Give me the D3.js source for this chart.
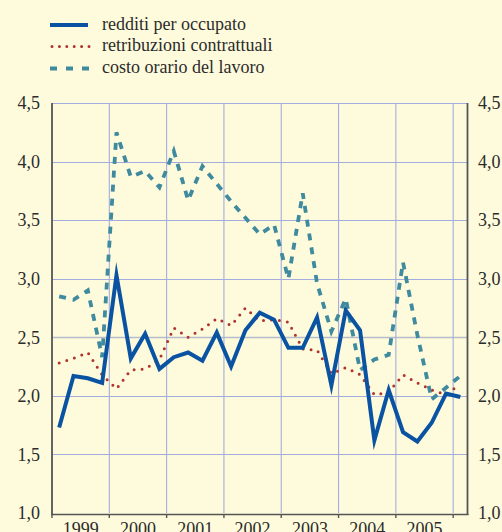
<!DOCTYPE html>
<html>
<head>
<meta charset="utf-8">
<script src="https://cdn.jsdelivr.net/npm/d3@7"></script>
<style>
  html, body { margin: 0; padding: 0; background: #fefbdc; }
  svg { display: block; }
  text { font-family: "Liberation Serif", "Times New Roman", serif; fill: #2b2b2b; }
</style>
</head>
<body>
<svg id="chart" width="502" height="532"></svg>
<script>
// ---- data ----
const years = ["1999", "2000", "2001", "2002", "2003", "2004", "2005"];
const quarters = [
  "1999T1","1999T2","1999T3","1999T4",
  "2000T1","2000T2","2000T3","2000T4",
  "2001T1","2001T2","2001T3","2001T4",
  "2002T1","2002T2","2002T3","2002T4",
  "2003T1","2003T2","2003T3","2003T4",
  "2004T1","2004T2","2004T3","2004T4",
  "2005T1","2005T2","2005T3","2005T4",
  "2006T1"
];
const redditiPerOccupato = [
  1.73, 2.17, 2.15, 2.11, 3.03, 2.32, 2.53, 2.23,
  2.33, 2.37, 2.30, 2.54, 2.25, 2.56, 2.71, 2.65,
  2.41, 2.41, 2.67, 2.09, 2.73, 2.56, 1.62, 2.05,
  1.69, 1.61, 1.77, 2.02, 1.99
];
const retribuzioniContrattuali = [
  2.28, 2.32, 2.37, 2.18, 2.06, 2.22, 2.23, 2.31,
  2.58, 2.50, 2.57, 2.66, 2.60, 2.75, 2.64, 2.65,
  2.63, 2.40, 2.39, 2.19, 2.24, 2.18, 2.01, 2.03,
  2.18, 2.11, 2.05, 2.01, 2.10
];
const costoOrarioLavoro = [
  2.85, 2.82, 2.90, 2.33, 4.25, 3.87, 3.92, 3.78,
  4.09, 3.67, 3.96, 3.81, 3.66, 3.52, 3.38, 3.46,
  3.00, 3.73, 2.96, 2.55, 2.83, 2.22, 2.31, 2.35,
  3.14, 2.52, 1.97, 2.07, 2.17
];
const yTicks = [1.0, 1.5, 2.0, 2.5, 3.0, 3.5, 4.0, 4.5];
const seriesNames = ["redditi per occupato", "retribuzioni contrattuali", "costo orario del lavoro"];

// ---- layout ----
const svg = d3.select("#chart");
const pLeft = 52, pRight = 467.5, pTop = 103, pBottom = 513;

const x = d3.scaleBand().domain(quarters).range([pLeft, pRight]).padding(0);
const y = d3.scaleLinear().domain([1, 4.5]).range([pBottom, pTop]);
const cx = q => x(q) + x.bandwidth() / 2;
const fmt = v => d3.format(".1f")(v).replace(".", ",");

svg.append("rect").attr("width", 502).attr("height", 532).attr("fill", "#fefbdc");

// gridlines
const grid = svg.append("g");
grid.selectAll("line.h").data(yTicks.filter(v => v > 1)).enter().append("line")
  .attr("x1", pLeft).attr("x2", pRight)
  .attr("y1", d => Math.round(y(d)) + 0.5).attr("y2", d => Math.round(y(d)) + 0.5)
  .attr("stroke", d => d === 2.5 ? "#b7bccb" : "#a4acdf").attr("stroke-width", d => d === 2.5 ? 1.6 : 1.1);

const yearStarts = years.slice(1).map(yr => yr + "T1").concat(["2006T1"]);
grid.selectAll("line.v").data(yearStarts).enter().append("line")
  .attr("x1", d => x(d)).attr("x2", d => x(d))
  .attr("y1", pTop).attr("y2", pBottom)
  .attr("stroke", "#a4acdf").attr("stroke-width", 1.1);

// series
const line = vals => d3.line()
  .x((d, i) => cx(quarters[i]))
  .y(d => y(d))(vals);

svg.append("path").attr("d", line(costoOrarioLavoro))
  .attr("fill", "none").attr("stroke", "#3f8a9e").attr("stroke-width", 3.8)
  .attr("stroke-dasharray", "7,7").attr("stroke-linejoin", "miter");

svg.append("path").attr("d", line(retribuzioniContrattuali))
  .attr("fill", "none").attr("stroke", "#b0342e").attr("stroke-width", 3)
  .attr("stroke-dasharray", "0,8").attr("stroke-linecap", "round");

svg.append("path").attr("d", line(redditiPerOccupato))
  .attr("fill", "none").attr("stroke", "#0a53a3").attr("stroke-width", 4)
  .attr("stroke-linejoin", "miter").attr("stroke-miterlimit", 10);

// axes frame
const axisColor = "#555555";
svg.append("line").attr("x1", pLeft).attr("x2", pLeft).attr("y1", pTop).attr("y2", pBottom + 2)
  .attr("stroke", axisColor).attr("stroke-width", 1.8);
svg.append("line").attr("x1", pRight).attr("x2", pRight).attr("y1", pTop).attr("y2", pBottom + 2)
  .attr("stroke", axisColor).attr("stroke-width", 1.8);
svg.append("line").attr("x1", pLeft - 1).attr("x2", pRight + 1).attr("y1", pBottom + 1.5).attr("y2", pBottom + 1.5)
  .attr("stroke", axisColor).attr("stroke-width", 1.6);

// bottom ticks at year boundaries
const tickPos = [x("1999T1")].concat(yearStarts.map(d => x(d)));
svg.selectAll("line.bt").data(tickPos).enter().append("line")
  .attr("x1", d => d).attr("x2", d => d)
  .attr("y1", pBottom + 1.5).attr("y2", pBottom + 5)
  .attr("stroke", axisColor).attr("stroke-width", 1.4);

// y tick labels both sides
svg.selectAll("text.yl").data(yTicks).enter().append("text")
  .attr("x", 40).attr("y", d => y(d)).attr("dy", "0.35em")
  .attr("text-anchor", "end").attr("font-size", 18).text(fmt);
svg.selectAll("text.yr").data(yTicks).enter().append("text")
  .attr("x", 478).attr("y", d => y(d)).attr("dy", "0.35em")
  .attr("text-anchor", "start").attr("font-size", 18).text(fmt);

// year labels
svg.selectAll("text.yr2").data(years).enter().append("text")
  .attr("x", d => x(d + "T1") + 2 * x.bandwidth())
  .attr("y", 534.5)
  .attr("text-anchor", "middle").attr("font-size", 18).text(d => d);

// legend
const legend = svg.append("g");
const legY = [25, 46.5, 68.5];
legend.append("line").attr("x1", 50).attr("x2", 88).attr("y1", legY[0]).attr("y2", legY[0])
  .attr("stroke", "#0a53a3").attr("stroke-width", 4);
legend.append("line").attr("x1", 52).attr("x2", 90).attr("y1", legY[1]).attr("y2", legY[1])
  .attr("stroke", "#b0342e").attr("stroke-width", 3)
  .attr("stroke-dasharray", "0,7.4").attr("stroke-linecap", "round");
legend.append("line").attr("x1", 50).attr("x2", 89).attr("y1", legY[2]).attr("y2", legY[2])
  .attr("stroke", "#3f8a9e").attr("stroke-width", 3.8).attr("stroke-dasharray", "7,9");
legend.selectAll("text").data(seriesNames).enter().append("text")
  .attr("x", 102).attr("y", (d, i) => legY[i] + 4.5)
  .attr("font-size", 18).text(d => d);
</script>
</body>
</html>
